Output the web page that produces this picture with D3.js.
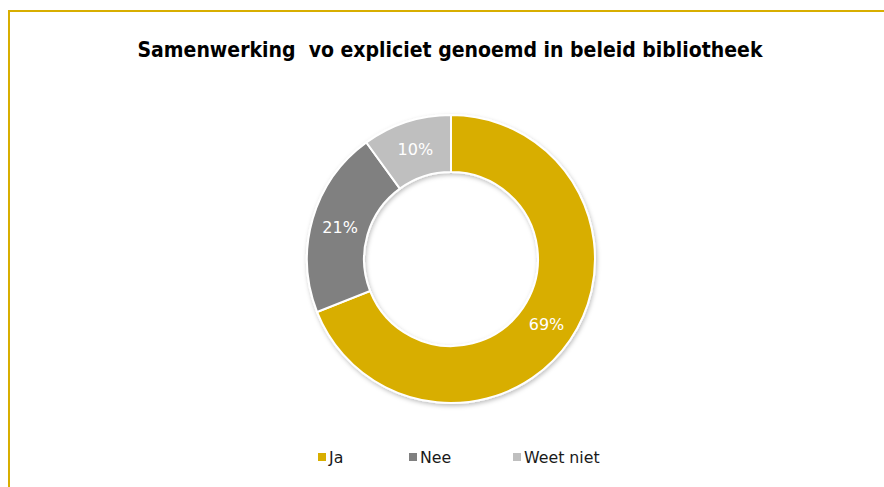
<!DOCTYPE html>
<html>
<head>
<meta charset="utf-8">
<script src="https://cdn.jsdelivr.net/npm/d3@7"></script>
<style>
html,body{margin:0;padding:0;background:#fff;}
svg{display:block;}
</style>
</head>
<body>
<svg id="chart" width="884" height="487"></svg>
<script>
const categories = ["Ja", "Nee", "Weet niet"];
const values = [69, 21, 10];
const colors = ["#D8AE00", "#808080", "#BFBFBF"];
const title = "Samenwerking  vo expliciet genoemd in beleid bibliotheek";

const svg = d3.select("#chart");

// border (top and left gold lines)
svg.append("line").attr("x1", 9).attr("x2", 884).attr("y1", 11).attr("y2", 11)
  .attr("stroke", "#D8AE00").attr("stroke-width", 2);
svg.append("line").attr("x1", 9).attr("x2", 9).attr("y1", 10).attr("y2", 487)
  .attr("stroke", "#D8AE00").attr("stroke-width", 2);

// title
svg.append("text")
  .attr("x", 450).attr("y", 57)
  .attr("text-anchor", "middle")
  .attr("font-family", "'DejaVu Sans Condensed', 'DejaVu Sans', sans-serif")
  .attr("font-stretch", "condensed")
  .attr("font-weight", "bold")
  .attr("font-size", 21.5)
  .attr("textLength", 625)
  .attr("lengthAdjust", "spacingAndGlyphs")
  .attr("fill", "#000")
  .attr("xml:space", "preserve")
  .style("white-space", "pre")
  .text(title);

// shadow filter
const defs = svg.append("defs");
const f = defs.append("filter").attr("id", "shadow").attr("x", "-10%").attr("y", "-10%").attr("width", "120%").attr("height", "120%");
f.append("feDropShadow").attr("dx", 1).attr("dy", 2).attr("stdDeviation", 2).attr("flood-color", "#000").attr("flood-opacity", 0.25);

const cx = 451, cy = 259, rOuter = 144, rInner = 87;
const pie = d3.pie().sort(null).value(d => d.v);
const data = categories.map((c, i) => ({c, v: values[i], col: colors[i]}));
const arcs = pie(data);
const arc = d3.arc().innerRadius(rInner).outerRadius(rOuter);

const g = svg.append("g").attr("transform", `translate(${cx},${cy})`);
g.append("g").attr("filter", "url(#shadow)")
  .selectAll("path").data(arcs).join("path")
  .attr("d", arc)
  .attr("fill", d => d.data.col)
  .attr("stroke", "#fff")
  .attr("stroke-width", 2);

g.selectAll("text.lbl").data(arcs).join("text")
  .attr("class", "lbl")
  .attr("transform", d => `translate(${arc.centroid(d)})`)
  .attr("text-anchor", "middle")
  .attr("dy", "0.36em")
  .attr("font-family", "'DejaVu Sans', Verdana, sans-serif")
  .attr("font-size", 16)
  .attr("fill", "#fff")
  .text(d => d.data.v + "%");

// legend
const legendX = [318, 409, 513];
const lg = svg.append("g");
const items = lg.selectAll("g").data(data).join("g")
  .attr("transform", (d, i) => `translate(${legendX[i]},457)`);
items.append("rect").attr("x", 0).attr("y", -4).attr("width", 8).attr("height", 8).attr("fill", d => d.col);
items.append("text").attr("x", 11).attr("y", 0).attr("dy", "0.36em")
  .attr("font-family", "'DejaVu Sans', Verdana, sans-serif")
  .attr("font-size", 15.8)
  .attr("fill", "#1a1a1a")
  .text(d => d.c);
</script>
</body>
</html>
